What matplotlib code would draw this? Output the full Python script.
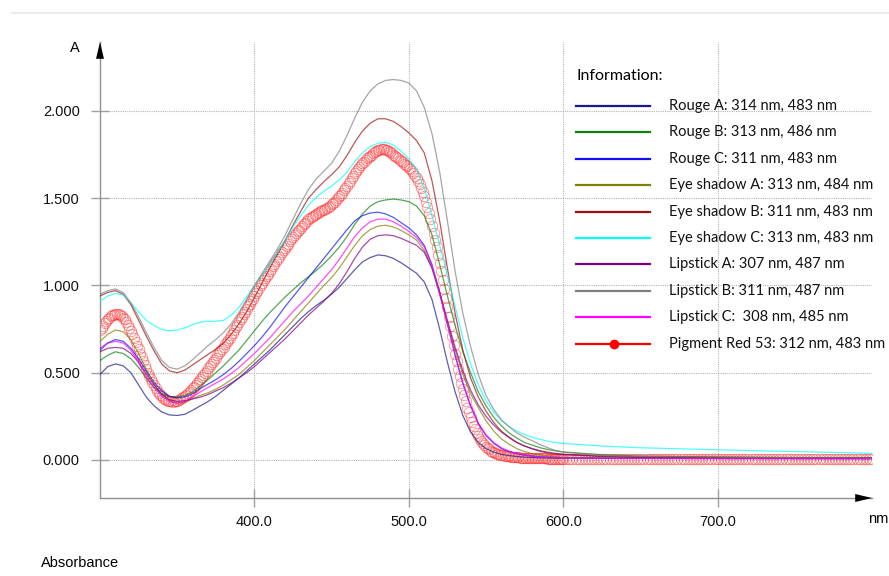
import matplotlib.pyplot as plt
import numpy as np
from matplotlib.lines import Line2D

# wavelength grid (nm) shared by the line series: 5 nm steps to 600, then coarse
wavelength = [300, 305, 310, 315, 320, 325, 330, 335, 340, 345,
              350, 355, 360, 365, 370, 375, 380, 385, 390, 395,
              400, 405, 410, 415, 420, 425, 430, 435, 440, 445,
              450, 455, 460, 465, 470, 475, 480, 485, 490, 495,
              500, 505, 510, 515, 520, 525, 530, 535, 540, 545,
              550, 555, 560, 565, 570, 575, 580, 585, 590, 595,
              600, 625, 650, 700, 750, 800]

rouge_a = [0.49, 0.535, 0.55, 0.54, 0.50, 0.43, 0.36, 0.31, 0.275, 0.258,
           0.255, 0.262, 0.285, 0.31, 0.335, 0.365, 0.40, 0.435, 0.47, 0.51,
           0.55, 0.59, 0.63, 0.675, 0.72, 0.765, 0.81, 0.85, 0.885, 0.915,
           0.95, 0.99, 1.04, 1.09, 1.135, 1.16, 1.175, 1.17, 1.155, 1.13,
           1.10, 1.07, 1.02, 0.92, 0.75, 0.56, 0.39, 0.255, 0.16, 0.10,
           0.065, 0.045, 0.032, 0.025, 0.02, 0.016, 0.014, 0.012, 0.011, 0.01,
           0.01, 0.009, 0.009, 0.008, 0.008, 0.007]
rouge_b = [0.57, 0.60, 0.62, 0.61, 0.58, 0.53, 0.47, 0.415, 0.38, 0.362,
           0.36, 0.37, 0.39, 0.425, 0.46, 0.50, 0.54, 0.585, 0.63, 0.685,
           0.74, 0.795, 0.845, 0.89, 0.935, 0.975, 1.015, 1.05, 1.085, 1.125,
           1.17, 1.22, 1.28, 1.35, 1.41, 1.455, 1.48, 1.49, 1.495, 1.49,
           1.48, 1.455, 1.40, 1.29, 1.12, 0.94, 0.77, 0.62, 0.50, 0.39,
           0.31, 0.245, 0.195, 0.155, 0.125, 0.10, 0.085, 0.07, 0.06, 0.052,
           0.046, 0.03, 0.022, 0.017, 0.014, 0.012]
rouge_c = [0.63, 0.67, 0.69, 0.68, 0.64, 0.58, 0.51, 0.445, 0.395, 0.365,
           0.355, 0.362, 0.38, 0.41, 0.435, 0.46, 0.49, 0.525, 0.565, 0.61,
           0.655, 0.705, 0.76, 0.82, 0.88, 0.935, 0.99, 1.045, 1.10, 1.155,
           1.21, 1.265, 1.32, 1.37, 1.40, 1.415, 1.42, 1.41, 1.39, 1.36,
           1.33, 1.29, 1.23, 1.12, 0.96, 0.78, 0.60, 0.44, 0.31, 0.21,
           0.14, 0.095, 0.065, 0.048, 0.036, 0.028, 0.022, 0.018, 0.016, 0.014,
           0.013, 0.011, 0.01, 0.009, 0.008, 0.008]
eye_a = [0.68, 0.72, 0.745, 0.735, 0.69, 0.61, 0.52, 0.435, 0.375, 0.34,
         0.325, 0.33, 0.35, 0.37, 0.385, 0.405, 0.43, 0.46, 0.49, 0.53,
         0.57, 0.615, 0.66, 0.705, 0.75, 0.80, 0.85, 0.90, 0.95, 1.00,
         1.045, 1.10, 1.165, 1.23, 1.285, 1.32, 1.34, 1.345, 1.335, 1.315,
         1.29, 1.26, 1.20, 1.10, 0.95, 0.79, 0.63, 0.49, 0.38, 0.30,
         0.225, 0.165, 0.12, 0.09, 0.065, 0.048, 0.036, 0.028, 0.022, 0.018,
         0.015, 0.012, 0.011, 0.01, 0.009, 0.009]
eye_b = [0.94, 0.96, 0.97, 0.95, 0.89, 0.80, 0.71, 0.625, 0.55, 0.51,
         0.50, 0.515, 0.545, 0.575, 0.605, 0.635, 0.67, 0.72, 0.78, 0.85,
         0.93, 1.015, 1.10, 1.18, 1.26, 1.345, 1.425, 1.50, 1.55, 1.595,
         1.635, 1.68, 1.745, 1.82, 1.885, 1.93, 1.955, 1.955, 1.94, 1.91,
         1.875, 1.83, 1.76, 1.60, 1.37, 1.10, 0.84, 0.63, 0.47, 0.36,
         0.28, 0.215, 0.165, 0.13, 0.10, 0.08, 0.065, 0.053, 0.045, 0.038,
         0.033, 0.022, 0.018, 0.015, 0.012, 0.01]
eye_c = [0.91, 0.94, 0.955, 0.945, 0.90, 0.85, 0.80, 0.77, 0.748, 0.74,
         0.745, 0.757, 0.775, 0.79, 0.795, 0.795, 0.80, 0.83, 0.875, 0.935,
         1.00, 1.06, 1.12, 1.19, 1.26, 1.335, 1.40, 1.46, 1.505, 1.54,
         1.57, 1.605, 1.65, 1.71, 1.76, 1.795, 1.815, 1.82, 1.805, 1.77,
         1.725, 1.665, 1.56, 1.40, 1.23, 1.06, 0.88, 0.70, 0.55, 0.43,
         0.34, 0.275, 0.225, 0.19, 0.165, 0.145, 0.13, 0.118, 0.108, 0.10,
         0.095, 0.08, 0.07, 0.058, 0.048, 0.038]
lip_a = [0.62, 0.64, 0.645, 0.64, 0.61, 0.56, 0.495, 0.43, 0.375, 0.345,
         0.335, 0.34, 0.35, 0.36, 0.375, 0.395, 0.415, 0.44, 0.47, 0.50,
         0.535, 0.575, 0.615, 0.655, 0.695, 0.74, 0.785, 0.83, 0.87, 0.91,
         0.955, 1.01, 1.08, 1.155, 1.22, 1.265, 1.285, 1.29, 1.285, 1.27,
         1.25, 1.23, 1.19, 1.10, 0.96, 0.80, 0.645, 0.51, 0.40, 0.315,
         0.25, 0.20, 0.16, 0.128, 0.10, 0.08, 0.063, 0.05, 0.04, 0.034,
         0.03, 0.02, 0.015, 0.012, 0.01, 0.01]
lip_b = [0.95, 0.97, 0.98, 0.96, 0.90, 0.82, 0.73, 0.645, 0.57, 0.53,
         0.52, 0.54, 0.575, 0.615, 0.655, 0.69, 0.73, 0.78, 0.845, 0.92,
         1.00, 1.07, 1.14, 1.21, 1.29, 1.38, 1.47, 1.55, 1.61, 1.655,
         1.70, 1.77, 1.86, 1.96, 2.05, 2.115, 2.155, 2.175, 2.18, 2.175,
         2.16, 2.115, 2.02, 1.87, 1.65, 1.37, 1.08, 0.84, 0.65, 0.49,
         0.37, 0.29, 0.23, 0.19, 0.155, 0.13, 0.11, 0.088, 0.07, 0.055,
         0.045, 0.025, 0.02, 0.016, 0.013, 0.01]
lip_c = [0.64, 0.67, 0.68, 0.67, 0.63, 0.56, 0.48, 0.415, 0.365, 0.335,
         0.325, 0.335, 0.36, 0.39, 0.415, 0.44, 0.465, 0.495, 0.53, 0.57,
         0.61, 0.655, 0.70, 0.75, 0.80, 0.85, 0.895, 0.94, 0.99, 1.04,
         1.09, 1.15, 1.215, 1.28, 1.33, 1.365, 1.38, 1.38, 1.365, 1.34,
         1.31, 1.275, 1.22, 1.11, 0.95, 0.78, 0.60, 0.44, 0.31, 0.21,
         0.145, 0.10, 0.07, 0.05, 0.037, 0.028, 0.022, 0.018, 0.015, 0.013,
         0.012, 0.01, 0.009, 0.008, 0.008, 0.007]

# Pigment Red 53 reference spectrum: 1 nm steps to 600 nm, 2 nm steps after
red_wavelength = np.concatenate([np.arange(300, 601), np.arange(602, 801, 2)])
red_53 = [0.745, 0.758, 0.77, 0.783, 0.795, 0.805, 0.815, 0.823, 0.83, 0.833,
          0.835, 0.836, 0.836, 0.832, 0.825, 0.816, 0.805, 0.791, 0.775, 0.758,
          0.74, 0.72, 0.70, 0.678, 0.655, 0.633, 0.61, 0.588, 0.565, 0.543,
          0.52, 0.50, 0.48, 0.462, 0.445, 0.427, 0.41, 0.397, 0.385, 0.375,
          0.365, 0.357, 0.35, 0.345, 0.34, 0.337, 0.335, 0.334, 0.335, 0.337,
          0.34, 0.345, 0.35, 0.355, 0.36, 0.367, 0.375, 0.382, 0.39, 0.40,
          0.41, 0.42, 0.43, 0.44, 0.45, 0.462, 0.475, 0.487, 0.50, 0.512,
          0.525, 0.537, 0.55, 0.562, 0.575, 0.587, 0.60, 0.612, 0.625, 0.637,
          0.65, 0.662, 0.675, 0.687, 0.70, 0.715, 0.73, 0.745, 0.76, 0.775,
          0.79, 0.805, 0.82, 0.835, 0.85, 0.865, 0.88, 0.895, 0.91, 0.925,
          0.94, 0.955, 0.97, 0.985, 1.00, 1.015, 1.03, 1.043, 1.055, 1.068,
          1.08, 1.095, 1.11, 1.125, 1.14, 1.152, 1.165, 1.178, 1.19, 1.203,
          1.215, 1.228, 1.24, 1.253, 1.265, 1.278, 1.29, 1.30, 1.31, 1.32,
          1.33, 1.34, 1.35, 1.36, 1.37, 1.378, 1.385, 1.393, 1.40, 1.405,
          1.41, 1.415, 1.42, 1.425, 1.43, 1.435, 1.44, 1.445, 1.45, 1.457,
          1.465, 1.472, 1.48, 1.49, 1.50, 1.51, 1.52, 1.532, 1.545, 1.557,
          1.57, 1.585, 1.60, 1.615, 1.63, 1.643, 1.655, 1.668, 1.68, 1.69,
          1.70, 1.71, 1.72, 1.728, 1.735, 1.743, 1.75, 1.758, 1.765, 1.77,
          1.775, 1.778, 1.78, 1.781, 1.78, 1.778, 1.775, 1.77, 1.765, 1.758,
          1.75, 1.743, 1.735, 1.728, 1.72, 1.713, 1.705, 1.698, 1.69, 1.683,
          1.675, 1.665, 1.655, 1.643, 1.63, 1.615, 1.60, 1.58, 1.56, 1.535,
          1.51, 1.48, 1.45, 1.415, 1.38, 1.34, 1.30, 1.26, 1.22, 1.175,
          1.13, 1.08, 1.03, 0.98, 0.93, 0.875, 0.82, 0.765, 0.71, 0.66,
          0.61, 0.565, 0.52, 0.48, 0.44, 0.405, 0.37, 0.335, 0.30, 0.272,
          0.245, 0.22, 0.195, 0.175, 0.155, 0.137, 0.12, 0.107, 0.095, 0.085,
          0.075, 0.067, 0.06, 0.054, 0.048, 0.044, 0.04, 0.036, 0.033, 0.03,
          0.028, 0.026, 0.024, 0.022, 0.021, 0.02, 0.019, 0.018, 0.017, 0.016,
          0.015, 0.015, 0.014, 0.014, 0.013, 0.013, 0.012, 0.012, 0.011, 0.011,
          0.01, 0.01, 0.01, 0.01, 0.009, 0.009, 0.009, 0.009, 0.009, 0.009,
          0.008, 0.008, 0.008, 0.008, 0.008, 0.008, 0.008, 0.008, 0.008, 0.008,
          0.008,
          0.008, 0.008, 0.008, 0.008, 0.008, 0.007, 0.007, 0.007, 0.007, 0.007,
          0.007, 0.007, 0.007, 0.007, 0.007, 0.007, 0.007, 0.007, 0.007, 0.007,
          0.007, 0.007, 0.007, 0.007, 0.007, 0.007, 0.007, 0.007, 0.007, 0.007,
          0.007, 0.007, 0.007, 0.007, 0.007, 0.006, 0.006, 0.006, 0.006, 0.006,
          0.006, 0.006, 0.006, 0.006, 0.006, 0.006, 0.006, 0.006, 0.006, 0.006,
          0.006, 0.006, 0.006, 0.006, 0.006, 0.006, 0.006, 0.006, 0.006, 0.006,
          0.006, 0.006, 0.006, 0.006, 0.006, 0.006, 0.006, 0.006, 0.006, 0.006,
          0.006, 0.006, 0.006, 0.006, 0.006, 0.006, 0.006, 0.006, 0.006, 0.006,
          0.006, 0.006, 0.006, 0.006, 0.006, 0.006, 0.006, 0.006, 0.006, 0.006,
          0.006, 0.006, 0.006, 0.006, 0.006, 0.006, 0.006, 0.006, 0.006, 0.006]

series = [rouge_a, rouge_b, rouge_c, eye_a, eye_b, eye_c, lip_a, lip_b, lip_c]
colors = ['#1a1a8c', '#108010', '#1010f0', '#808000', '#a01010',
          '#00ffff', '#800080', '#808080', '#ff00ff']
labels = ['Rouge A: 314 nm, 483 nm', 'Rouge B: 313 nm, 486 nm', 'Rouge C: 311 nm, 483 nm',
          'Eye shadow A: 313 nm, 484 nm', 'Eye shadow B: 311 nm, 483 nm',
          'Eye shadow C: 313 nm, 483 nm', 'Lipstick A: 307 nm, 487 nm',
          'Lipstick B: 311 nm, 487 nm', 'Lipstick C:  308 nm, 485 nm',
          'Pigment Red 53: 312 nm, 483 nm']

W, H = 889, 576
fig = plt.figure(figsize=(W / 100, H / 100), dpi=100)
ax = fig.add_axes([100 / W, 78 / H, 772 / W, 456 / H])

ax.plot(red_wavelength, red_53, linestyle='none', marker='o', markersize=7.5,
        markerfacecolor='none', markeredgecolor='#ff3030', markeredgewidth=0.6,
        alpha=0.55, zorder=2)
for values, color in zip(series, colors):
    ax.plot(wavelength, values, color=color, lw=0.9, alpha=0.7, zorder=3)

ax.set_xlim(300, 800)
ax.set_ylim(-0.218, 2.395)
ax.set_xticks([400, 500, 600, 700])
ax.set_xticklabels(['400.0', '500.0', '600.0', '700.0'])
ax.set_yticks([0, 0.5, 1.0, 1.5, 2.0])
ax.set_yticklabels(['0.000', '0.500', '1.000', '1.500', '2.000'])
ax.tick_params(direction='inout', length=13, color='#a0a0a0', width=1,
               labelsize=10.5, labelcolor='#111111')
ax.tick_params(axis='y', pad=8)
ax.tick_params(axis='x', pad=6)
for lbl in ax.get_xticklabels() + ax.get_yticklabels():
    lbl.set_family('Liberation Sans')
ax.grid(True, color='#b4b4b4', linestyle=(0, (1, 1)), lw=0.8)
ax.set_axisbelow(True)

for side in ['top', 'right']:
    ax.spines[side].set_visible(False)
for side in ['left', 'bottom']:
    ax.spines[side].set_color('#909090')
    ax.spines[side].set_linewidth(1)

# arrow heads on the axes
arrow = dict(arrowstyle='-|>,head_length=0.55,head_width=0.13', mutation_scale=22,
             color='black', lw=0, shrinkA=0, shrinkB=0)
ax.annotate('', xy=(0, 1), xytext=(0, 0.95), xycoords='axes fraction',
            arrowprops=arrow, annotation_clip=False)
ax.annotate('', xy=(1, 0), xytext=(0.96, 0), xycoords='axes fraction',
            arrowprops=arrow, annotation_clip=False)

fig.text(75 / W, 1 - 48 / H, 'A', ha='center', va='center', fontsize=10.5,
         family='Liberation Sans')
fig.text(888 / W, 1 - 519 / H, 'nm', ha='right', va='center', fontsize=10.5,
         family='Liberation Sans')
fig.text(41 / W, 1 - 563 / H, 'Absorbance', ha='left', va='center', fontsize=10.5,
         family='Liberation Sans')

# thin separator at the top of the picture
fig.add_artist(Line2D([12 / W, 1], [1 - 13 / H, 1 - 13 / H], color='#ececec', lw=1.5))

# legend panel
fig.text(576 / W, 1 - 76 / H, 'Information:', ha='left', va='center', fontsize=11.5,
         family='Lato')
legend_colors = colors + ['#ff0000']
for i, (label, color) in enumerate(zip(labels, legend_colors)):
    y = 1 - (106 + i * 26.4) / H
    fig.add_artist(Line2D([576 / W, 650 / W], [y, y], color=color, lw=1.6))
    if i == len(labels) - 1:
        fig.add_artist(Line2D([614 / W], [y], color=color, marker='o', markersize=6))
    fig.text(669 / W, y, label, ha='left', va='center', fontsize=10.5, family='Lato',
             color='#111111')

fig.savefig('out.png', dpi=100)
